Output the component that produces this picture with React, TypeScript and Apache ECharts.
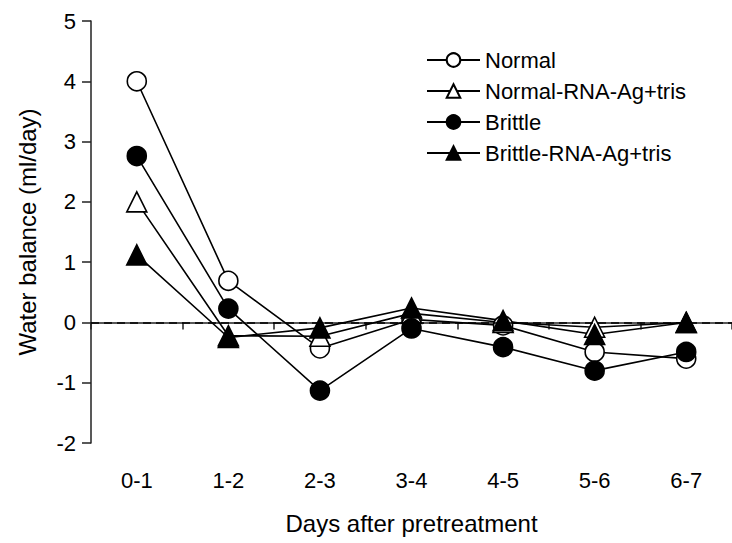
import React, { useEffect, useRef } from "react";
import * as echarts from "echarts";

const categories = ["0-1", "1-2", "2-3", "3-4", "4-5", "5-6", "6-7"];
const seriesNames = ["Normal", "Normal-RNA-Ag+tris", "Brittle", "Brittle-RNA-Ag+tris"];
const normal = [4.0, 0.69, -0.43, 0.05, -0.05, -0.49, -0.6];
const normalRna = [2.0, -0.22, -0.23, 0.15, 0.0, -0.08, 0.0];
const brittle = [2.76, 0.23, -1.13, -0.1, -0.41, -0.8, -0.49];
const brittleRna = [1.12, -0.25, -0.09, 0.24, 0.03, -0.2, 0.0];
const yTicks = { min: -2, max: 5, interval: 1 };

const FONT = "'Liberation Sans', Arial, sans-serif";

export default function App() {
  const ref = useRef<HTMLDivElement>(null);
  useEffect(() => {
    if (!ref.current) return;
    const chart = echarts.init(ref.current, undefined, { renderer: "svg" });
    const mk = (name: string, data: number[], symbol: string, filled: boolean, size: number, extra: any = {}) => ({
      name,
      type: "line",
      data,
      symbol,
      symbolSize: size,
      showAllSymbol: true,
      lineStyle: { color: "#000", width: 1.6 },
      itemStyle: { color: filled ? "#000" : "#fff", borderColor: "#000", borderWidth: 1.6 },
      emphasis: { disabled: true },
      ...extra,
    });
    chart.setOption({
      animation: false,
      textStyle: { fontFamily: FONT },
      grid: { left: 91, top: 21, bottom: 100, width: 651 },
      legend: {
        orient: "vertical",
        left: 421,
        top: 44,
        itemWidth: 53,
        itemHeight: 17,
        itemGap: 9,
        textStyle: { fontSize: 22, lineHeight: 22, color: "#000", fontFamily: FONT },
        data: seriesNames,
      },
      xAxis: {
        type: "category",
        data: categories,
        boundaryGap: true,
        name: "Days after pretreatment",
        nameLocation: "middle",
        nameGap: 68,
        nameTextStyle: { fontSize: 24, color: "#000", fontFamily: FONT },
        axisLine: { lineStyle: { color: "#222", width: 1.5 } },
        axisTick: { show: true, length: 7, inside: false, lineStyle: { color: "#222", width: 1.5 } },
        axisLabel: { fontSize: 22, color: "#000", margin: 26, fontFamily: FONT },
        splitLine: { show: false },
      },
      yAxis: {
        type: "value",
        min: yTicks.min,
        max: yTicks.max,
        interval: yTicks.interval,
        name: "Water balance (ml/day)",
        nameLocation: "middle",
        nameGap: 52,
        nameRotate: 90,
        nameTextStyle: { fontSize: 24, color: "#000", fontFamily: FONT },
        axisLine: { show: true, lineStyle: { color: "#222", width: 1.5 } },
        axisTick: { show: true, length: 9, lineStyle: { color: "#222", width: 1.5 } },
        axisLabel: { fontSize: 22, color: "#000", margin: 15, fontFamily: FONT },
        splitLine: { show: false },
      },
      series: [
        mk(seriesNames[0], normal, "circle", false, 19, {
          markLine: {
            silent: true,
            symbol: "none",
            label: { show: false },
            lineStyle: { color: "#000", width: 1.6, type: [8, 5] },
            data: [{ yAxis: 0 }],
          },
        }),
        mk(seriesNames[1], normalRna, "triangle", false, 20),
        mk(seriesNames[2], brittle, "circle", true, 19),
        mk(seriesNames[3], brittleRna, "triangle", true, 20),
      ],
    });
    return () => chart.dispose();
  }, []);
  return <div ref={ref} style={{ width: 732, height: 543, position: "absolute", left: 0, top: 0 }} />;
}
